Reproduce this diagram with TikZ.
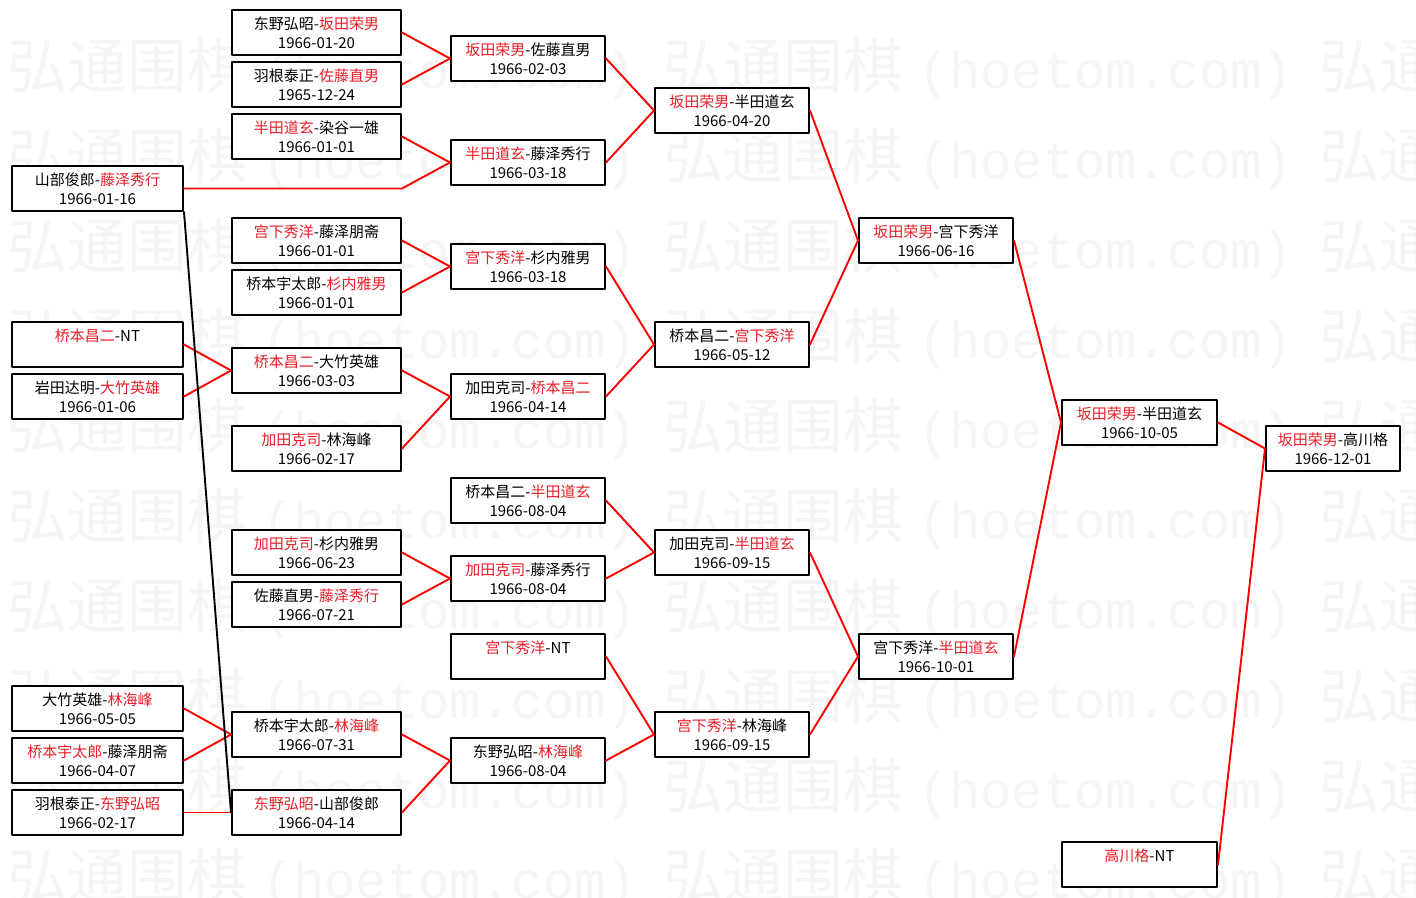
\documentclass[tikz,border=0pt]{standalone}
\usepackage{fontspec}
\setmainfont{Noto Sans CJK SC}
\newfontfamily\wmlatin{Liberation Mono}
\definecolor{winred}{RGB}{232,30,40}
\definecolor{wmgray}{RGB}{245,245,245}
\newcommand{\winner}[1]{\textcolor{winred}{#1}}
\tikzset{
	tran/.style={draw=black, line width=2pt, fill=white, inner sep=0pt, minimum height=45pt, align=center, font=\fontsize{15}{19}\selectfont},
	colA/.style={tran, minimum width=171pt},
	colB/.style={tran, minimum width=169pt},
	colC/.style={tran, minimum width=154pt},
	colG/.style={tran, minimum width=134pt},
	thang/.style={red, line width=1.9pt},
	thua/.style={black, line width=1.9pt},
	wm/.style={wmgray, inner sep=0pt, font=\fontsize{60}{60}\selectfont}
}
\begin{document}
\begin{tikzpicture}[x=1pt,y=-1pt,line join=round,line cap=round]
	%%Toạ độ các cột
	\def \xA{97.5}
	\def \xB{316.5}
	\def \xC{528}
	\def \xD{732}
	\def \xE{936}
	\def \xF{1139.5}
	\def \xG{1333}
	\useasboundingbox (0,0) rectangle (1416,897);
	\fill[white] (0,0) rectangle (1416,897);
	%%Chữ chìm
	\begin{scope}
		\clip (0,0) rectangle (1416,897);
		\foreach \r in {0,...,9}
		\foreach \c in {0,1,2}{
			\node[wm, anchor=base west] (wm\r\c) at ({7+656*\c},{88+90*\r}) {弘通围棋};
			\node[wm, font=\wmlatin\fontsize{52}{52}\selectfont, anchor=base west] (wt\r\c) at ({262+656*\c},{88+90*\r}) {(hoetom.com)};
		}
	\end{scope}
	%%Cột 1
	\node[colA] (a1) at (\xA,188.5) {山部俊郎-\winner{藤泽秀行}\\1966-01-16};
	\node[colA] (a2) at (\xA,344.5) {\winner{桥本昌二}-NT\\\phantom{1966-01-01}};
	\node[colA] (a3) at (\xA,396.5) {岩田达明-\winner{大竹英雄}\\1966-01-06};
	\node[colA] (a4) at (\xA,708.5) {大竹英雄-\winner{林海峰}\\1966-05-05};
	\node[colA] (a5) at (\xA,760.5) {\winner{桥本宇太郎}-藤泽朋斋\\1966-04-07};
	\node[colA] (a6) at (\xA,812.5) {羽根泰正-\winner{东野弘昭}\\1966-02-17};
	%%Cột 2
	\node[colB] (b1) at (\xB,32.5) {东野弘昭-\winner{坂田荣男}\\1966-01-20};
	\node[colB] (b2) at (\xB,84.5) {羽根泰正-\winner{佐藤直男}\\1965-12-24};
	\node[colB] (b3) at (\xB,136.5) {\winner{半田道玄}-染谷一雄\\1966-01-01};
	\node[colB] (b4) at (\xB,240.5) {\winner{宫下秀洋}-藤泽朋斋\\1966-01-01};
	\node[colB] (b5) at (\xB,292.5) {桥本宇太郎-\winner{杉内雅男}\\1966-01-01};
	\node[colB] (b6) at (\xB,370.5) {\winner{桥本昌二}-大竹英雄\\1966-03-03};
	\node[colB] (b7) at (\xB,448.5) {\winner{加田克司}-林海峰\\1966-02-17};
	\node[colB] (b8) at (\xB,552.5) {\winner{加田克司}-杉内雅男\\1966-06-23};
	\node[colB] (b9) at (\xB,604.5) {佐藤直男-\winner{藤泽秀行}\\1966-07-21};
	\node[colB] (b10) at (\xB,734.5) {桥本宇太郎-\winner{林海峰}\\1966-07-31};
	\node[colB] (b11) at (\xB,812.5) {\winner{东野弘昭}-山部俊郎\\1966-04-14};
	%%Cột 3
	\node[colC] (c1) at (\xC,58.5) {\winner{坂田荣男}-佐藤直男\\1966-02-03};
	\node[colC] (c2) at (\xC,162.5) {\winner{半田道玄}-藤泽秀行\\1966-03-18};
	\node[colC] (c3) at (\xC,266.5) {\winner{宫下秀洋}-杉内雅男\\1966-03-18};
	\node[colC] (c4) at (\xC,396.5) {加田克司-\winner{桥本昌二}\\1966-04-14};
	\node[colC] (c5) at (\xC,500.5) {桥本昌二-\winner{半田道玄}\\1966-08-04};
	\node[colC] (c6) at (\xC,578.5) {\winner{加田克司}-藤泽秀行\\1966-08-04};
	\node[colC] (c7) at (\xC,656.5) {\winner{宫下秀洋}-NT\\\phantom{1966-01-01}};
	\node[colC] (c8) at (\xC,760.5) {东野弘昭-\winner{林海峰}\\1966-08-04};
	%%Cột 4, 5, 6, 7
	\node[colC] (d1) at (\xD,110.5) {\winner{坂田荣男}-半田道玄\\1966-04-20};
	\node[colC] (d2) at (\xD,344.5) {桥本昌二-\winner{宫下秀洋}\\1966-05-12};
	\node[colC] (d3) at (\xD,552.5) {加田克司-\winner{半田道玄}\\1966-09-15};
	\node[colC] (d4) at (\xD,734.5) {\winner{宫下秀洋}-林海峰\\1966-09-15};
	\node[colC] (e1) at (\xE,240.5) {\winner{坂田荣男}-宫下秀洋\\1966-06-16};
	\node[colC] (e2) at (\xE,656.5) {宫下秀洋-\winner{半田道玄}\\1966-10-01};
	\node[colC, minimum width=155pt] (f1) at (\xF,422.5) {\winner{坂田荣男}-半田道玄\\1966-10-05};
	\node[colC, minimum width=155pt] (f2) at (\xF,864.5) {\winner{高川格}-NT\\\phantom{1966-01-01}};
	\node[colG] (g1) at (\xG,448.5) {\winner{坂田荣男}-高川格\\1966-12-01};
	%%Đường nối
	\foreach \u/\v in {a2/b6,a3/b6,a4/b10,a5/b10,a6/b11,
		b1/c1,b2/c1,b3/c2,b4/c3,b5/c3,b6/c4,b7/c4,b8/c6,b9/c6,b10/c8,b11/c8,
		c1/d1,c2/d1,c3/d2,c4/d2,c5/d3,c6/d3,c7/d4,c8/d4,
		d1/e1,d2/e1,d3/e2,d4/e2,e1/f1,e2/f1,f1/g1,f2/g1}
	\draw[thang] (\u.east)--(\v.west);
	\draw[thang] (a1.east)--(a1.east -| b3.east)--(c2.west);
	\draw[thua] (a1.south east)--(b11.west);
\end{tikzpicture}
\end{document}
